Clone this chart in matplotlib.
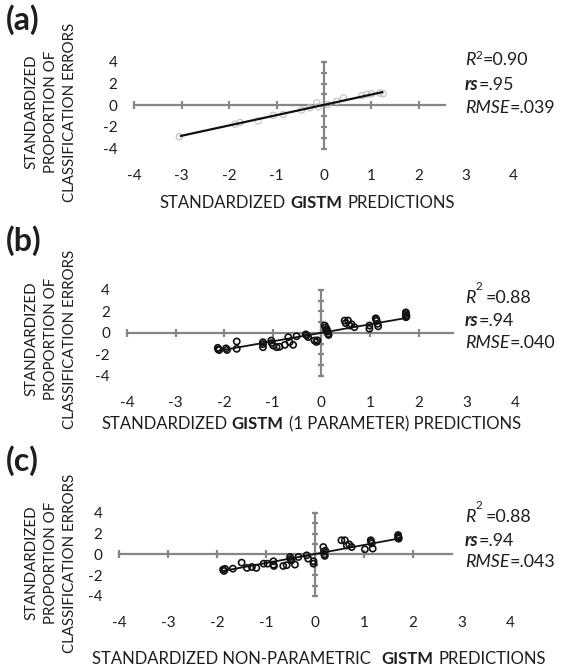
import matplotlib
matplotlib.use("Agg")
import matplotlib.pyplot as plt
from matplotlib.text import Annotation

plt.rcParams['font.family'] = ['Lato', 'DejaVu Sans']
plt.rcParams['axes.unicode_minus'] = False

# ---------------- data ----------------
a_x = [-3.05, -1.88, -1.77, -1.39, -1.07, -0.86, -0.47, -0.30, -0.15, -0.12, 0.08, 0.27, 0.41, 0.80, 0.90, 1.00, 1.18, 1.25]
a_y = [-2.90, -1.75, -1.60, -1.45, -0.94, -0.85, -0.45, -0.24, 0.22, -0.15, 0.05, 0.36, 0.67, 0.88, 1.00, 1.06, 1.12, 1.06]
a_fit_x = [-3.04, 1.25]
a_fit_y = [-2.85, 1.22]

b_x = [-2.13, -2.12, -2.10, -1.96, -1.94, -1.74, -1.74, -1.20, -1.20, -1.20, -1.03, -1.02, -0.99, -0.92, -0.86,
       -0.75, -0.68, -0.65, -0.58, -0.51, -0.32, -0.30, -0.27, -0.14, -0.10, -0.08, 0.07, 0.09, 0.10, 0.11, 0.13,
       0.14, 0.15, 0.48, 0.55, 0.50, 0.58, 0.62, 0.68, 0.99, 0.99, 1.12, 1.13, 1.14, 1.16, 1.17, 1.74, 1.74, 1.75,
       1.75, 1.74]
b_y = [-1.40, -1.55, -1.60, -1.45, -1.60, -0.81, -1.49, -0.87, -1.05, -1.34, -0.72, -0.95, -1.18, -1.34, -1.30,
       -1.12, -0.41, -0.87, -1.12, -0.32, -0.15, -0.25, -0.40, -0.72, -0.85, -0.70, 0.68, 0.50, 0.21, 0.35, 0.10,
       -0.10, -0.20, 1.14, 1.14, 0.90, 0.68, 0.80, 0.52, 0.68, 0.37, 1.35, 1.25, 1.10, 0.84, 0.60, 1.90, 1.75, 1.60,
       1.50, 1.45]
b_fit_x = [-2.15, 1.75]
b_fit_y = [-1.70, 1.38]

c_x = [-1.88, -1.86, -1.84, -1.68, -1.50, -1.39, -1.29, -1.20, -1.05, -0.97, -0.85, -0.85, -0.84, -0.65, -0.58,
       -0.51, -0.50, -0.48, -0.41, -0.34, -0.17, -0.14, -0.03, -0.03, 0.17, 0.18, 0.19, 0.20, 0.21, 0.54, 0.61,
       0.65, 0.70, 0.75, 1.02, 1.14, 1.15, 1.16, 1.18, 1.70, 1.70, 1.71, 1.71]
c_y = [-1.47, -1.60, -1.40, -1.38, -0.80, -1.31, -1.22, -1.31, -0.90, -0.90, -0.67, -1.00, -1.12, -1.12, -1.05,
       -0.26, -0.45, -0.58, -0.99, -0.26, -0.10, -0.42, -0.67, -0.90, 0.70, 0.25, 0.00, -0.15, 0.35, 1.35, 1.35,
       0.85, 0.95, 0.70, 0.48, 1.35, 1.20, 1.05, 0.55, 1.85, 1.70, 1.60, 1.50]
c_fit_x = [-1.88, 1.72]
c_fit_y = [-1.60, 1.52]

x_tick_vals = [-4, -3, -2, -1, 0, 1, 2, 3, 4]
y_tick_vals = [-4, -2, 0, 2, 4]
y_minor_vals = [-4, -3, -2, -1, 0, 1, 2, 3, 4]
x_axis_ticks = [-4, -3, -2, -1, 0, 1, 2]

panel_letters = ['(a)', '(b)', '(c)']
ylabel_lines = ["STANDARDIZED", "PROPORTION OF", "CLASSIFICATION ERRORS"]
xtitles = [
    [("STANDARDIZED", 'normal'), ("GISTM", 'bold'), ("PREDICTIONS", 'normal')],
    [("STANDARDIZED", 'normal'), ("GISTM", 'bold'), ("(1 PARAMETER) PREDICTIONS", 'normal')],
    [("STANDARDIZED NON-PARAMETRIC", 'normal'), ("GISTM", 'bold'), ("PREDICTIONS", 'normal')],
]
r2_text = ["=0.90", "=0.88", "=0.88"]
rs_text = ["=.95", "=.94", "=.94"]
rmse_text = ["=.039", "=.040", "=.043"]

# ---------------- layout ----------------
W, H = 574, 667
fig = plt.figure(figsize=(W / 100, H / 100), dpi=100)
GRAY = '#868686'
TXT = '#1e1e1e'

geo = [
    dict(ox=324.0, oy=105.2, ux=47.4, uy=10.85, xend=2.55),
    dict(ox=321.3, oy=332.8, ux=48.6, uy=10.75, xend=2.70),
    dict(ox=315.0, oy=554.3, ux=48.9, uy=10.40, xend=2.80),
]
point_style = [
    dict(facecolors='none', edgecolors='#c4c4c4', linewidths=0.9, s=20),
    dict(facecolors='none', edgecolors='#111111', linewidths=1.2, s=20),
    dict(facecolors='none', edgecolors='#111111', linewidths=1.2, s=20),
]
fit_lw = [1.6, 1.3, 1.3]
data = [(a_x, a_y, a_fit_x, a_fit_y), (b_x, b_y, b_fit_x, b_fit_y), (c_x, c_y, c_fit_x, c_fit_y)]

letter_y = [20, 241, 461]
ylabel_cy = [112, 339, 563]
ylabel_line_x = [31, 51, 70]
xtitle_pos = [(160, 203), (101, 424), (92, 659)]
xtitle_gaps = [[3.4, 3.4], [3.4, 3.4], [8.0, 3.4]]
ann_x = 465
ann_y = [(60, 85, 108), (298, 321, 343), (517, 540, 562)]
TITLE_FS = 12.0
ANN_FS = 12.9


def fx(x):
    return x / W


def fy(y):
    return 1 - y / H


def chain(first, parts, gaps):
    prev = first
    for (s, kw), gap in zip(parts, gaps):
        an = Annotation(s, xy=(1, 0), xycoords=prev, xytext=(gap, 0), textcoords='offset points',
                        ha='left', va='bottom', **kw)
        fig.add_artist(an)
        prev = an
    return prev


for i, g in enumerate(geo):
    ox, oy, ux, uy = g['ox'], g['oy'], g['ux'], g['uy']
    x0, x1 = -4 - 10 / ux, 4.6
    y0, y1 = -4.6, 4.6
    lp, rp = ox + x0 * ux, ox + x1 * ux
    tp, bp = oy - y1 * uy, oy - y0 * uy
    rect = [lp / W, 1 - bp / H, (rp - lp) / W, (bp - tp) / H]

    # label axes (tick labels placed "low", away from the crossing axes)
    axl = fig.add_axes(rect, frameon=False, label=f'lab{i}')
    axl.set_xlim(x0, x1)
    axl.set_ylim(y0, y1)
    axl.set_xticks(x_tick_vals)
    axl.set_xticklabels([str(v) for v in x_tick_vals])
    axl.set_yticks(y_tick_vals)
    axl.set_yticklabels([str(v) for v in y_tick_vals])
    axl.tick_params(length=0, labelsize=11, colors=TXT)
    axl.tick_params(axis='x', pad=10)
    axl.tick_params(axis='y', pad=5)

    ax = fig.add_axes(rect, label=f'main{i}')
    ax.patch.set_alpha(0)
    ax.set_xlim(x0, x1)
    ax.set_ylim(y0, y1)
    for side in ('top', 'right'):
        ax.spines[side].set_visible(False)
    ax.spines['left'].set_position(('data', 0))
    ax.spines['bottom'].set_position(('data', 0))
    ax.spines['left'].set_bounds(-4, 4)
    ax.spines['bottom'].set_bounds(-4, g['xend'])
    for side in ('left', 'bottom'):
        ax.spines[side].set_color(GRAY)
        ax.spines[side].set_linewidth(1.6)
    ax.set_xticks(x_axis_ticks)
    ax.set_yticks(y_minor_vals)
    ax.tick_params(direction='inout', width=1.6, color=GRAY, labelbottom=False, labelleft=False)
    ax.tick_params(axis='x', length=6)
    ax.tick_params(axis='y', length=5)

    xs, ys, fxs, fys = data[i]
    ax.scatter(xs, ys, zorder=3, clip_on=False, **point_style[i])
    ax.plot(fxs, fys, color='#111111', lw=fit_lw[i], zorder=4, solid_capstyle='butt')

    # panel letter
    fig.text(fx(6), fy(letter_y[i]), panel_letters[i], fontsize=23, fontweight='bold', color=TXT,
             ha='left', va='center')
    # y label (three centred lines)
    for lx, line in zip(ylabel_line_x, ylabel_lines):
        fig.text(fx(lx), fy(ylabel_cy[i]), line, rotation=90, ha='center', va='center',
                 fontsize=10.8, color=TXT)
    # x title
    xt = xtitle_pos[i]
    parts = xtitles[i]
    first = fig.text(fx(xt[0]), fy(xt[1]), parts[0][0], ha='left', va='center', fontsize=TITLE_FS, color=TXT)
    chain(first, [(s, dict(fontsize=TITLE_FS, fontweight=w, color=TXT)) for s, w in parts[1:]], xtitle_gaps[i])

    # statistics annotation
    ay = ann_y[i]
    tR = fig.text(fx(ann_x), fy(ay[0]), "R", fontsize=ANN_FS, fontstyle='italic', color=TXT,
                  ha='left', va='center')
    if i == 0:
        sup = Annotation("2", xy=(1, 0.42), xycoords=tR, xytext=(0.3, 0), textcoords='offset points',
                         ha='left', va='bottom', fontsize=8.5, color=TXT)
        fig.add_artist(sup)
        rest = Annotation(r2_text[i], xy=(1, 0), xycoords=(sup, tR), xytext=(0.2, 0), textcoords='offset points',
                          ha='left', va='bottom', fontsize=ANN_FS, color=TXT)
    else:
        sup = Annotation("2", xy=(1, 0.85), xycoords=tR, xytext=(0.3, 0), textcoords='offset points',
                         ha='left', va='bottom', fontsize=8.5, color=TXT)
        fig.add_artist(sup)
        rest = Annotation(r2_text[i], xy=(1, 0), xycoords=(sup, tR), xytext=(2.5, 0), textcoords='offset points',
                          ha='left', va='bottom', fontsize=ANN_FS, color=TXT)
    fig.add_artist(rest)

    trs = fig.text(fx(ann_x), fy(ay[1]), "rs", fontsize=ANN_FS, fontstyle='italic', fontweight='bold',
                   color=TXT, ha='left', va='center')
    chain(trs, [(rs_text[i], dict(fontsize=ANN_FS, color=TXT))], [0.2])
    trm = fig.text(fx(ann_x), fy(ay[2]), "RMSE", fontsize=ANN_FS, fontstyle='italic', color=TXT,
                   ha='left', va='center')
    chain(trm, [(rmse_text[i], dict(fontsize=ANN_FS, color=TXT))], [0.2])

fig.savefig("out.png", dpi=100)
